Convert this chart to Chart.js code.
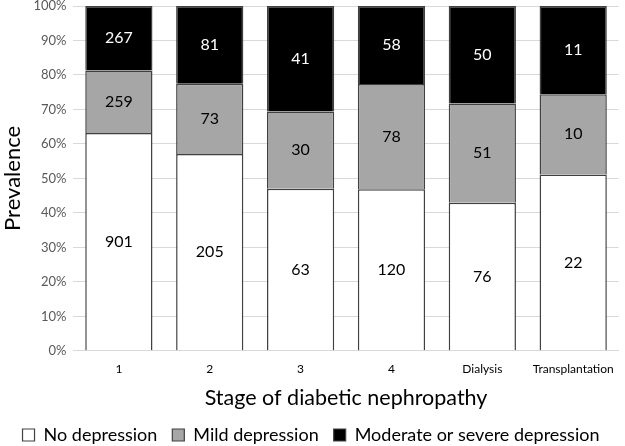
<!DOCTYPE html>
<html><head><meta charset="utf-8">
<script src="https://cdn.jsdelivr.net/npm/chart.js@4/dist/chart.umd.min.js"></script>
<style>html,body{margin:0;padding:0;background:#fff}#wrap{width:625px;height:446px}</style>
</head><body><div id="wrap"><canvas id="c" width="625" height="446"></canvas></div>
<script>
const categories = ["1","2","3","4","Dialysis","Transplantation"];
const noDepression = [901,205,63,120,76,22];
const mildDepression = [259,73,30,78,51,10];
const severeDepression = [267,81,41,58,50,11];
const seriesNames = ["No depression","Mild depression","Moderate or severe depression"];
const yTicks = [0,10,20,30,40,50,60,70,80,90,100];

const totals = categories.map((_,i)=>noDepression[i]+mildDepression[i]+severeDepression[i]);
const pct = arr => arr.map((v,i)=>v/totals[i]*100);
const counts = [noDepression, mildDepression, severeDepression];

const FONT = "Lato, 'Open Sans', sans-serif";

const labelPlugin = {
  id:'countLabels',
  afterDatasetsDraw(chart){
    const ctx = chart.ctx;
    ctx.save();
    ctx.font = "16px " + FONT;
    ctx.textAlign='center'; ctx.textBaseline='middle';
    chart.data.datasets.forEach((ds,di)=>{
      const meta = chart.getDatasetMeta(di);
      meta.data.forEach((bar,i)=>{
        const y = (bar.y + bar.base)/2;
        ctx.fillStyle = di===2 ? '#ffffff' : '#000000';
        ctx.fillText(String(counts[di][i]), bar.x, y);
      });
    });
    ctx.restore();
  }
};

new Chart(document.getElementById('c'), {
  type:'bar',
  data:{
    labels:categories,
    datasets:[
      {label:seriesNames[0], data:pct(noDepression), backgroundColor:'#ffffff', borderColor:'#404040', borderWidth:1.5},
      {label:seriesNames[1], data:pct(mildDepression), backgroundColor:'#a6a6a6', borderColor:'#404040', borderWidth:1.5},
      {label:seriesNames[2], data:pct(severeDepression), backgroundColor:'#000000', borderColor:'#404040', borderWidth:1.5}
    ]
  },
  options:{
    responsive:false, animation:false,
    devicePixelRatio:1,
    layout:{padding:{left:0,right:3,top:6,bottom:-8}},
    categoryPercentage:1, barPercentage:0.74,
    plugins:{
      legend:{position:'bottom', labels:{font:{family:FONT,size:18}, color:'#000', boxWidth:12, boxHeight:12, padding:15, generateLabels(chart){
        return chart.data.datasets.map((ds,i)=>({text:ds.label, fillStyle:ds.backgroundColor, strokeStyle:'#404040', lineWidth:1.2, datasetIndex:i, fontColor:'#000'}));
      }}},
      tooltip:{enabled:false}
    },
    scales:{
      x:{stacked:true, grid:{display:false, drawTicks:false}, border:{color:'#d9d9d9'},
        ticks:{font:{family:FONT,size:12}, color:'#000', padding:11, maxRotation:0},
        title:{display:true, text:'Stage of diabetic nephropathy', font:{family:FONT,size:21.5}, color:'#000', padding:{top:-2,bottom:0}}},
      y:{stacked:true, min:0, max:100, afterBuildTicks(axis){axis.ticks = yTicks.map(v=>({value:v}));},
        afterFit(axis){axis.paddingTop = 0;},
        grid:{color:'#d9d9d9', drawTicks:false}, border:{display:false},
        ticks:{font:{family:FONT,size:13}, color:'#595959', padding:7, callback:v=>v+'%'},
        title:{display:true, text:'Prevalence', font:{family:FONT,size:22}, color:'#000', padding:{top:0,bottom:0}}}
    }
  },
  plugins:[labelPlugin]
});
</script></body></html>
